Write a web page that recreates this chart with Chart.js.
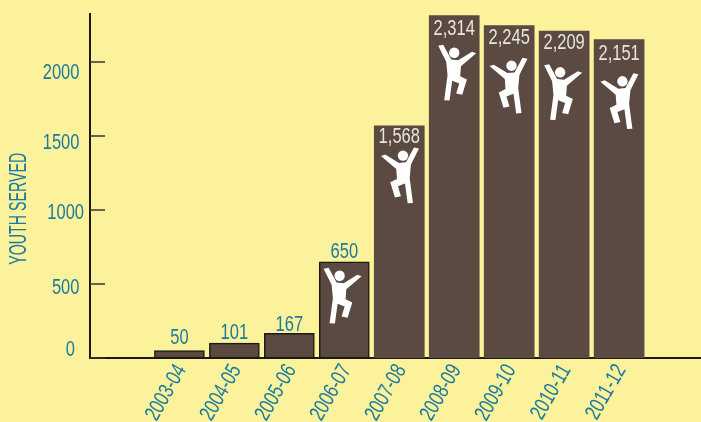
<!DOCTYPE html>
<html><head><meta charset="utf-8">
<style>html,body{margin:0;padding:0;background:#fbf29b;overflow:hidden}canvas{display:block}</style>
<script src="https://cdn.jsdelivr.net/npm/chart.js@4"></script>
</head><body><canvas id="c" width="701" height="422"></canvas>
<script>
const seasons = ["2003-04","2004-05","2005-06","2006-07","2007-08","2008-09","2009-10","2010-11","2011-12"];
const youthServed = [50,101,167,650,1568,2314,2245,2209,2151];
const yTickLabels = [0,500,1000,1500,2000];
const axisTitle = "YOUTH SERVED";

const FONT = '"Liberation Sans",sans-serif';
const TEAL = '#1b7a9e', BROWN = '#5a4a42', INK = '#1c1a14', BG = '#fbf29b';
const NARROW = 0.75;

// y label nudges against their ticks, as printed in the source
const yLabelShift = {0:-7.7,500:3.7,1000:3.3,1500:6.7,2000:11};
const yLabelPad = {0:'  ',500:' ',1000:'',1500:' ',2000:' '};
// value label offset from bar top
const valueDy = [-12.5,-9.7,-8,-10,11,13,12.7,11.7,14.3];

// jumper outline, relative to bar centre / bar top
const shape = [[-16,30.3],[-11,29.3],[-3,44],[4,44.7],[17.7,36.3],[22,37.7],[6.7,50.7],[6,60.7],[12.7,64],[8,79.3],[2,78],[5,68],[-2,65.3],[-4.7,85],[-10,84.7],[-6.7,59.7],[-8,46.3]];
// per-bar placement: mirror flag, dx, dy (null = no figure)
const place = [null,null,null,{m:1,dx:-4.7,dy:-23.3},{m:-1,dx:3.7,dy:-7.6},{m:1,dx:0,dy:0},{m:-1,dx:2.3,dy:2.7},{m:1,dx:-4,dy:4},{m:-1,dx:3.3,dy:4.4}];

const cv = document.getElementById('c');
const rawCtx = cv.getContext('2d');
const rawFill = rawCtx.fillText.bind(rawCtx);
// All text on this chart is a condensed face: squeeze along the text's own direction.
rawCtx.fillText = function(t,x,y,w){
  rawCtx.save(); rawCtx.translate(x,y); rawCtx.scale(NARROW,1); rawFill(t,0,0); rawCtx.restore();
};

const decor = {
  id:'decor',
  afterDatasetsDraw(chart){
    const ctx = chart.ctx, y = chart.scales.y;
    ctx.save();
    ctx.strokeStyle = '#3a3524'; ctx.lineWidth = 1.5;
    y.ticks.forEach(t=>{
      const p = Math.round(y.getPixelForValue(t.value));
      ctx.beginPath(); ctx.moveTo(chart.chartArea.left,p); ctx.lineTo(chart.chartArea.left+15,p); ctx.stroke();
    });
    ctx.save();
    ctx.translate(19.5,208.7); ctx.rotate(-Math.PI/2); ctx.scale(0.826,1);
    ctx.fillStyle = TEAL; ctx.font = '23px '+FONT; ctx.textAlign='center'; ctx.textBaseline='middle';
    ctx.fillText(axisTitle,0,0);
    ctx.restore();
    chart.getDatasetMeta(0).data.forEach((bar,i)=>{
      const label = youthServed[i].toLocaleString('en-US');
      const inside = youthServed[i] > 1000;
      ctx.font = '22px '+FONT; ctx.textAlign='center'; ctx.textBaseline='middle';
      ctx.fillStyle = inside ? '#eae5da' : TEAL;
      ctx.fillText(label, bar.x, bar.y+valueDy[i]);
      const f = place[i];
      if(f){
        const ox = bar.x+f.dx, oy = bar.y+f.dy;
        ctx.fillStyle = '#ffffff';
        ctx.beginPath();
        shape.forEach(([sx,sy],k)=>{
          const X = ox+f.m*sx, Y = oy+sy;
          k ? ctx.lineTo(X,Y) : ctx.moveTo(X,Y);
        });
        ctx.closePath(); ctx.fill();
        ctx.beginPath(); ctx.arc(ox,oy+37.3,5.2,0,Math.PI*2); ctx.fill();
      }
    });
    ctx.restore();
  }
};

new Chart(cv,{
  type:'bar',
  data:{datasets:[{
    data: seasons.map((s,i)=>({x:i,y:youthServed[i]})),
    backgroundColor: BROWN,
    borderColor: youthServed.map(v=>v<1000?INK:BROWN),
    borderWidth: youthServed.map(v=>v<1000?1.5:0),
    barThickness: 50,
    borderSkipped:false
  }]},
  options:{
    responsive:false, animation:false,
    layout:{padding:{top:14,left:0,right:0,bottom:0}},
    plugins:{legend:{display:false},tooltip:{enabled:false},title:{display:false}},
    scales:{
      x:{
        type:'linear', offset:false, min:-1.627, max:9.49,
        afterBuildTicks(s){ s.ticks = seasons.map((_,i)=>({value:i})); },
        afterFit(s){ s.height = 64; s.paddingLeft=0; s.paddingRight=0; },
        grid:{display:false,offset:false,drawTicks:false},
        border:{display:true,color:INK,width:2},
        ticks:{autoSkip:false,minRotation:60,maxRotation:60,padding:2,labelOffset:2,color:TEAL,
          font:{family:FONT,size:22},callback:v=>seasons[v]}
      },
      y:{
        min:0,max:2324,
        afterBuildTicks(s){ s.ticks = yTickLabels.map(v=>({value:v})); },
        afterFit(s){ s.width = 90; s.paddingTop=0; s.paddingBottom=0; },
        grid:{display:false,drawTicks:false},
        border:{display:true,color:INK,width:2},
        ticks:{padding:6,color:TEAL,
          font:c=>({family:FONT,size:22,lineHeight:c.tick?(2*Math.abs(yLabelShift[c.tick.value]))+'px':'20px'}),
          callback:v=>{const t=String(v)+yLabelPad[v];return yLabelShift[v]<0?[t,'']:['',t];}}
      }
    }
  },
  plugins:[decor,{id:'bg',beforeDraw(c){c.ctx.save();c.ctx.fillStyle=BG;c.ctx.fillRect(0,0,c.width,c.height);c.ctx.restore();}}]
});
</script></body></html>
